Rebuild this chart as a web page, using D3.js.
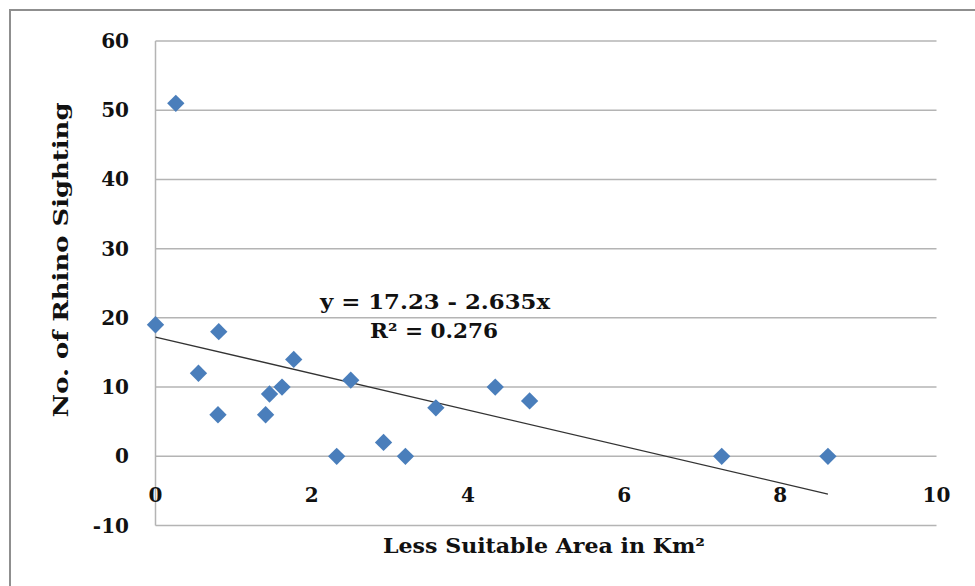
<!DOCTYPE html>
<html>
<head>
<meta charset="utf-8">
<script src="https://cdn.jsdelivr.net/npm/d3@7"></script>
<style>
  html, body { margin: 0; padding: 0; background: #fff; }
  svg { display: block; }
</style>
</head>
<body>
<svg id="chart" width="975" height="586"></svg>
<script>
// ---- data ----
const areaKm2   = [0, 0.26, 0.55, 0.81, 0.80, 1.41, 1.46, 1.62, 1.77, 2.32, 2.50, 2.92, 3.20, 3.59, 4.35, 4.79, 7.25, 8.61];
const sightings = [19, 51, 12, 18, 6, 6, 9, 10, 14, 0, 11, 2, 0, 7, 10, 8, 0, 0];
const xTicks = [0, 2, 4, 6, 8, 10];
const yTicks = [-10, 0, 10, 20, 30, 40, 50, 60];
const trendIntercept = 17.23;
const trendSlope = -2.635;
const equationText = "y = 17.23 - 2.635x";
const r2Label = "R² = 0.276";
const xTitle = "Less Suitable Area in Km²";
const yTitle = "No. of Rhino Sighting";

const svg = d3.select("#chart");
const W = 975, H = 586;
const font = "'DejaVu Serif', 'Liberation Serif', serif";

svg.append("rect").attr("width", W).attr("height", H).attr("fill", "#fff");
// outer frame
svg.append("rect").attr("x", 10).attr("y", 10).attr("width", W + 20).attr("height", H + 20)
  .attr("fill", "none").attr("stroke", "#8f8f8f").attr("stroke-width", 2);

const x = d3.scaleLinear().domain([0, 10]).range([155.5, 936.5]);
const y = d3.scaleLinear().domain([-10, 60]).range([525.5, 41]);

// gridlines
svg.append("g").selectAll("line").data(yTicks).join("line")
  .attr("x1", x(0)).attr("x2", x(10))
  .attr("y1", d => y(d)).attr("y2", d => y(d))
  .attr("stroke", "#b4b4b4").attr("stroke-width", 1.5);

// vertical axis line
svg.append("line").attr("x1", x(0)).attr("x2", x(0)).attr("y1", y(60)).attr("y2", y(-10))
  .attr("stroke", "#b4b4b4").attr("stroke-width", 1.5);

// y tick labels
svg.append("g").selectAll("text").data(yTicks).join("text")
  .attr("x", 129).attr("y", d => y(d)).attr("dy", "0.35em")
  .attr("text-anchor", "end")
  .attr("font-family", font).attr("font-weight", "bold").attr("font-size", 20)
  .attr("fill", "#111").text(d => d);

// x tick labels
svg.append("g").selectAll("text").data(xTicks).join("text")
  .attr("x", d => x(d)).attr("y", y(0) + 38.5).attr("dy", "0.35em")
  .attr("text-anchor", "middle")
  .attr("font-family", font).attr("font-weight", "bold").attr("font-size", 20)
  .attr("fill", "#111").text(d => d);

// trend line
const xMax = d3.max(areaKm2);
svg.append("line")
  .attr("x1", x(0)).attr("y1", y(trendIntercept))
  .attr("x2", x(xMax)).attr("y2", y(trendIntercept + trendSlope * xMax))
  .attr("stroke", "#333").attr("stroke-width", 1.3);

// points
const pts = areaKm2.map((v, i) => [v, sightings[i]]);
const sym = d3.symbol(d3.symbolSquare, 150);
svg.append("g").selectAll("path").data(pts).join("path")
  .attr("d", sym)
  .attr("transform", d => `translate(${x(d[0])},${y(d[1])}) rotate(45)`)
  .attr("fill", "#4a7ebb");

// equation
svg.append("text").attr("x", 320).attr("y", 309).attr("textLength", 230).attr("lengthAdjust", "spacingAndGlyphs")
  .attr("font-family", font).attr("font-weight", "bold").attr("font-size", 20)
  .attr("fill", "#111").text(equationText);
svg.append("text").attr("x", 370).attr("y", 338).attr("textLength", 128).attr("lengthAdjust", "spacingAndGlyphs")
  .attr("font-family", font).attr("font-weight", "bold").attr("font-size", 20)
  .attr("fill", "#111").text(r2Label);

// axis titles
svg.append("text").attr("x", 544).attr("y", 553).attr("text-anchor", "middle")
  .attr("textLength", 322).attr("lengthAdjust", "spacingAndGlyphs")
  .attr("font-family", font).attr("font-weight", "bold").attr("font-size", 21)
  .attr("fill", "#111").text(xTitle);

svg.append("text").attr("transform", "translate(68,260) rotate(-90)")
  .attr("text-anchor", "middle")
  .attr("textLength", 315).attr("lengthAdjust", "spacingAndGlyphs")
  .attr("font-family", font).attr("font-weight", "bold").attr("font-size", 21)
  .attr("fill", "#111").text(yTitle);
</script>
</body>
</html>
